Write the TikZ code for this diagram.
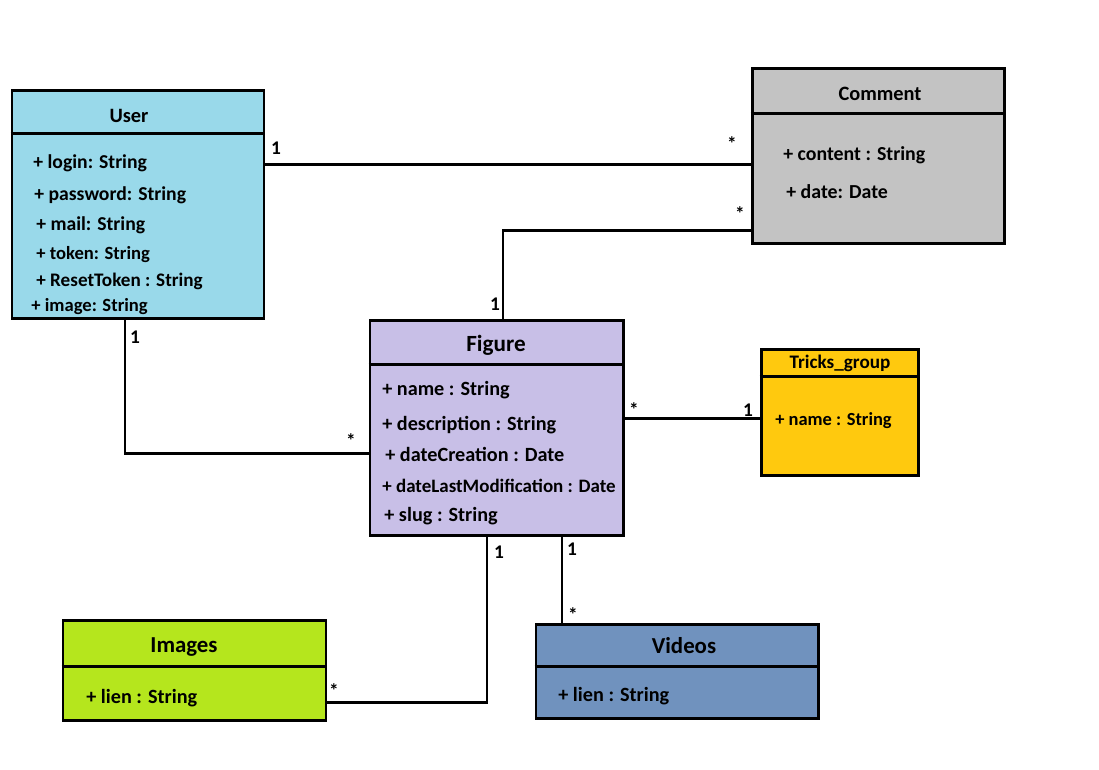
\documentclass[tikz,border=0pt]{standalone}
\usepackage{fontspec}
\setmainfont{Carlito}
\usetikzlibrary{fit}

\definecolor{userblue}{RGB}{153,217,234}
\definecolor{commentgray}{RGB}{195,195,195}
\definecolor{figurepurple}{RGB}{200,191,231}
\definecolor{tricksyellow}{RGB}{255,201,14}
\definecolor{imagesgreen}{RGB}{181,230,29}
\definecolor{videosblue}{RGB}{112,146,190}

\begin{document}
\begin{tikzpicture}[x=0.02cm,y=-0.02cm]
	\tikzstyle{classbox}=[draw,line width=1.7pt,inner sep=0pt]
	\tikzstyle{divider}=[line width=1.7pt]
	\tikzstyle{link}=[line width=1.7pt]
	\tikzstyle{title}=[inner sep=0pt,yshift=-0.04cm,font=\bfseries\fontsize{11.6}{14}\selectfont]
	\tikzstyle{attr}=[anchor=west,inner sep=0pt,yshift=-0.04cm,font=\bfseries\fontsize{11.5}{14}\selectfont]
	\tikzstyle{mult}=[inner sep=0pt,font=\bfseries\fontsize{11}{13}\selectfont]

	\useasboundingbox (0,0) rectangle (1099,769);

	% User
	\node (user) [classbox, fill=userblue, fit={(12,90) (264,318)}] {};
	\draw[divider] (user.west |- 0,133) -- (user.east |- 0,133);
	\node (usertitle) [title] at (129,114) {User};
	\node (ulogin) [attr, font=\bfseries\fontsize{11.2}{14}\selectfont] at (33,161) {+ login: String};
	\node (upassword) [attr, font=\bfseries\fontsize{11.2}{14}\selectfont] at (34,193) {+ password: String};
	\node (umail) [attr, font=\bfseries\fontsize{11.2}{14}\selectfont] at (36,223) {+ mail: String};
	\node (utoken) [attr, font=\bfseries\fontsize{10.6}{13}\selectfont] at (36,253) {+ token: String};
	\node (ureset) [attr, font=\bfseries\fontsize{10.9}{13}\selectfont] at (36,279) {+ ResetToken : String};
	\node (uimage) [attr, font=\bfseries\fontsize{10.6}{13}\selectfont] at (31,305) {+ image: String};

	% Comment
	\node (comment) [classbox, fill=commentgray, fit={(752,68) (1004,243)}] {};
	\draw[divider] (comment.west |- 0,113) -- (comment.east |- 0,113);
	\node (commenttitle) [title] at (880,92) {Comment};
	\node (ccontent) [attr, font=\bfseries\fontsize{11.3}{14}\selectfont] at (783,153) {+ content : String};
	\node (cdate) [attr, font=\bfseries\fontsize{11.3}{14}\selectfont] at (786,190) {+ date: Date};

	% Figure
	\node (figure) [classbox, fill=figurepurple, fit={(370,320) (623,535)}] {};
	\draw[divider] (figure.west |- 0,364) -- (figure.east |- 0,364);
	\node (figuretitle) [title, font=\bfseries\fontsize{13.2}{16}\selectfont] at (496,343) {Figure};
	\node (fname) [attr] at (382,388) {+ name : String};
	\node (fdesc) [attr] at (382,423) {+ description : String};
	\node (fcreation) [attr] at (385,452) {+ dateCreation : Date};
	\node (fmodif) [attr, font=\bfseries\fontsize{10.8}{13}\selectfont] at (382,484) {+ dateLastModification : Date};
	\node (fslug) [attr] at (384,514) {+ slug : String};

	% Tricks_group
	\node (tricks) [classbox, fill=tricksyellow, fit={(761,349) (918,475)}] {};
	\draw[divider] (tricks.west |- 0,376) -- (tricks.east |- 0,376);
	\node (trickstitle) [title, font=\bfseries\fontsize{10.9}{13}\selectfont] at (840,361) {Tricks\_group};
	\node (tname) [attr, font=\bfseries\fontsize{10.5}{12}\selectfont] at (775,419) {+ name : String};

	% Images
	\node (images) [classbox, fill=imagesgreen, fit={(63,620) (326,720)}] {};
	\draw[divider] (images.west |- 0,666) -- (images.east |- 0,666);
	\node (imagestitle) [title, font=\bfseries\fontsize{13}{16}\selectfont] at (184,645) {Images};
	\node (ilien) [attr] at (86,696) {+ lien : String};

	% Videos
	\node (videos) [classbox, fill=videosblue, fit={(536,624) (818,718)}] {};
	\draw[divider] (videos.west |- 0,666) -- (videos.east |- 0,666);
	\node (videostitle) [title, font=\bfseries\fontsize{13}{16}\selectfont] at (684,644) {Videos};
	\node (vlien) [attr] at (558,694) {+ lien : String};

	% associations
	\draw[link] (user.east |- 0,164) -- (comment.west |- 0,164);
	\draw[link] (comment.west |- 0,230) -| (figure.north -| 503,0);
	\draw[link] (user.south -| 125,0) |- (figure.west |- 0,453);
	\draw[link] (figure.east |- 0,418) -- (tricks.west |- 0,418);
	\draw[link] (figure.south -| 487,0) |- (images.east |- 0,702);
	\draw[link] (figure.south -| 562,0) -- (videos.north -| 562,0);

	% multiplicities
	\node (m1) [mult] at (276,148) {1};
	\node (m2) [mult] at (732,144) {*};
	\node (m3) [mult] at (740,214) {*};
	\node (m4) [mult] at (495,304) {1};
	\node (m5) [mult] at (135,337) {1};
	\node (m6) [mult] at (351,441) {*};
	\node (m7) [mult] at (634,410) {*};
	\node (m8) [mult] at (748,410) {1};
	\node (m9) [mult] at (499,552) {1};
	\node (m10) [mult] at (334,691) {*};
	\node (m11) [mult] at (572,549) {1};
	\node (m12) [mult] at (573,615) {*};
\end{tikzpicture}
\end{document}
